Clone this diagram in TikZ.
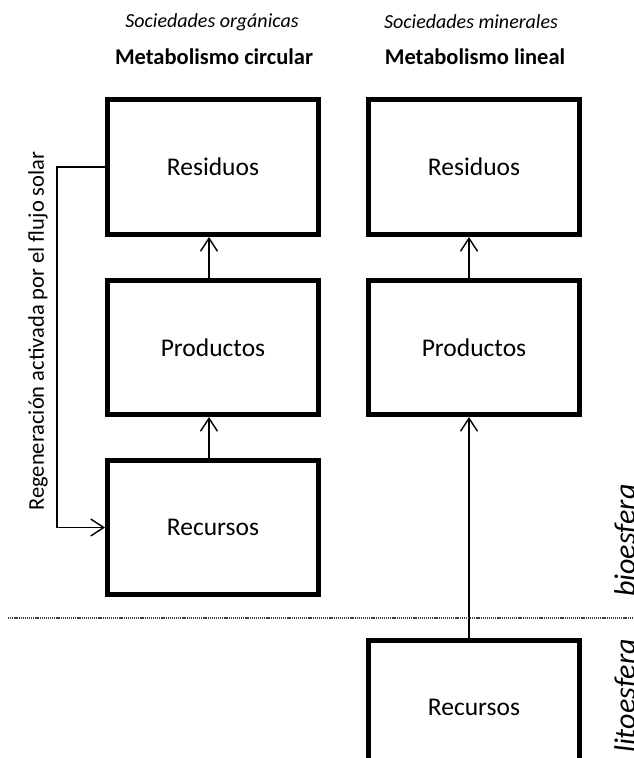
\documentclass[tikz,border=0pt]{standalone}
\usepackage{fontspec}
\setmainfont{Carlito}
\usetikzlibrary{arrows.meta}
\begin{document}
\begin{tikzpicture}[x=1pt,y=-1pt,
  box/.style={draw=black, line width=5pt, minimum width=211pt, minimum height=134pt, inner sep=0pt, outer sep=2.5pt, font=\fontsize{25.5}{30}\selectfont},
  arr/.style={line width=1.4pt, -{Straight Barb[length=13pt,width=17pt]}},
  hdr/.style={font=\fontsize{20}{24}\selectfont\itshape},
  ttl/.style={font=\fontsize{22.5}{27}\selectfont\bfseries},
  side/.style={font=\fontsize{30}{34}\selectfont\itshape, rotate=90, anchor=base west, inner sep=0pt}
]
\useasboundingbox (0,0) rectangle (633,758);
\fill[white] (0,0) rectangle (633,758);
% headers
\node[hdr] (h1) at (212,22) {Sociedades orgánicas};
\node[ttl] (t1) at (214,57) {Metabolismo circular};
\node[hdr] (h2) at (471,22) {Sociedades minerales};
\node[ttl] (t2) at (475,57) {Metabolismo lineal};
% left column
\node[box, minimum height=135pt] (res1) at (213,167) {Residuos};
\node[box] (pro1) at (213,347.5) {Productos};
\node[box] (rec1) at (213,527.5) {Recursos};
% right column
\node[box, minimum height=135pt] (res2) at (474,167) {Residuos};
\node[box] (pro2) at (474,347.5) {Productos};
\node[box] (rec2) at (474,707.5) {Recursos};
% arrows
\draw[arr] (pro1.north -| 209,0) -- (res1.south -| 209,0);
\draw[arr] (rec1.north -| 209,0) -- (pro1.south -| 209,0);
\draw[arr] (pro2.north -| 469,0) -- (res2.south -| 469,0);
\draw[arr] (rec2.north -| 469,0) -- (pro2.south -| 469,0);
% feedback loop
\coordinate (fb) at (57,0);
\draw[arr] (res1.west) -- (res1.west -| fb) |- (rec1.west);
\node[rotate=90, font=\fontsize{22.5}{27}\selectfont] (regen) at (38,331) {Regeneración activada por el flujo solar};
% separator
\coordinate (dl) at (8,618);
\coordinate (dr) at (633,618);
\draw[line width=2pt, black!75, dash pattern=on 1.2pt off 0.9pt] (dl) -- (dr);
% side labels
\node[side] (bio) at (635,597) {bioesfera};
\node[side] (lito) at (635,753) {litoesfera};
\end{tikzpicture}
\end{document}
